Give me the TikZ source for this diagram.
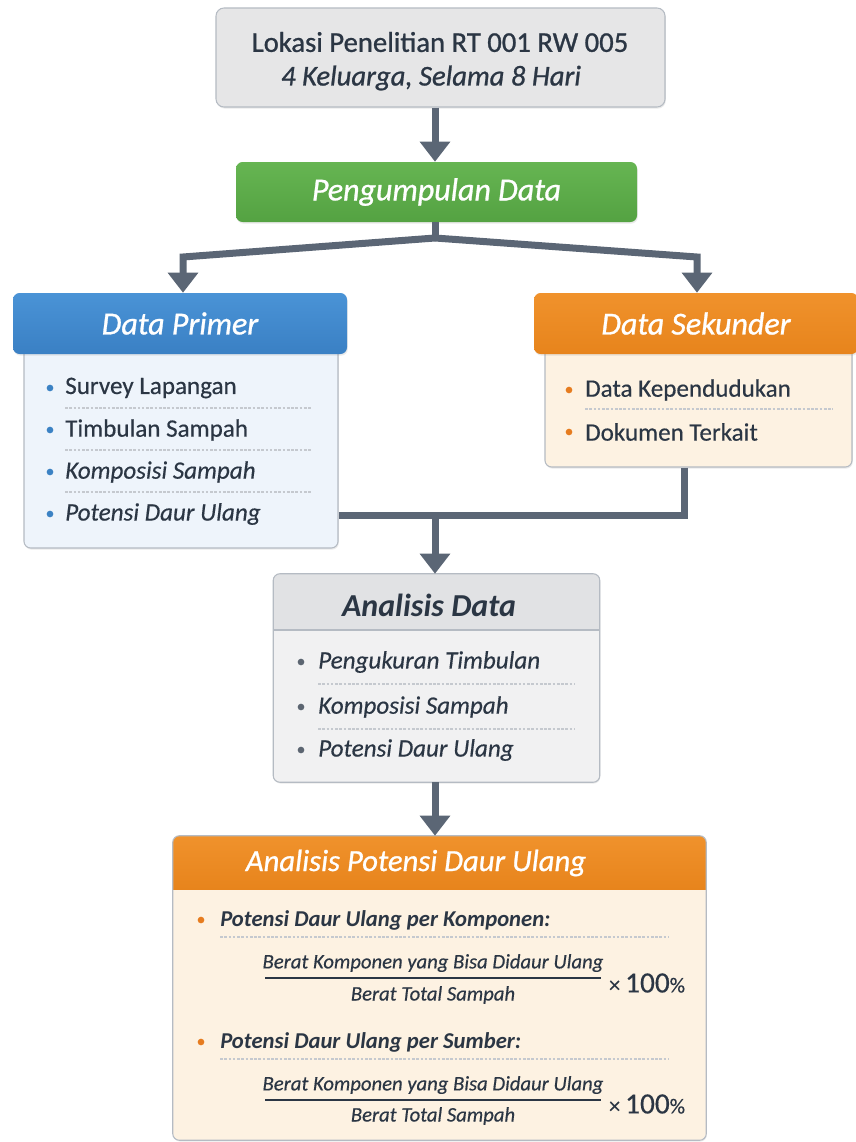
\documentclass[tikz,border=0pt]{standalone}
\usepackage{fontspec}
\setmainfont{Carlito}
\newfontfamily\med{Carlito}[FakeBold=0.9]
\newfontfamily\semi{Carlito}[FakeBold=0.4]
\usetikzlibrary{arrows.meta,shadows,calc}
\definecolor{txt}{HTML}{2B3644}
\definecolor{cline}{HTML}{5B6675}
\definecolor{topfill}{HTML}{E6E6E7}
\definecolor{bord}{HTML}{B5BBC3}
\definecolor{gtop}{HTML}{66B552}
\definecolor{gbot}{HTML}{54A242}
\definecolor{btop}{HTML}{4A93D6}
\definecolor{bbot}{HTML}{3A80C4}
\definecolor{bluebody}{HTML}{EEF4FB}
\definecolor{otop}{HTML}{F0922C}
\definecolor{obot}{HTML}{E7841C}
\definecolor{orgbody}{HTML}{FDF2E2}
\definecolor{grayhd}{HTML}{E1E2E4}
\definecolor{graybody}{HTML}{F1F1F2}
\definecolor{sepc}{HTML}{C5C9CF}
\definecolor{bdot}{HTML}{3B82C4}
\definecolor{odot}{HTML}{E67C1F}
\definecolor{gdot}{HTML}{5C6571}
\newcommand\setfs[1]{\fontsize{#1pt}{#1pt}\selectfont}
\begin{document}
\begin{tikzpicture}[x=0.75pt,y=-0.75pt,
  shad/.style={drop shadow={shadow xshift=0.6pt,shadow yshift=-1.2pt,opacity=0.16}},
  plain/.style={rectangle,inner sep=0pt,rounded corners=5pt,shad},
  body/.style={plain,draw=bord,line width=0.8pt},
  head/.style={plain,text=white,font=\med\setfs{24}\itshape},
  conn/.style={draw=cline,line width=5.25pt},
  arr/.style={conn,-{Triangle[width=22pt,length=15pt]}},
  sep/.style={draw=sepc,line width=0.8pt,dash pattern=on 2pt off 1.2pt},
  item/.style={anchor=west,inner sep=0pt,text=txt,font=\semi\setfs{18.8}},
  itemi/.style={item,font=\semi\setfs{18.8}\itshape},
  lbl/.style={inner sep=0pt,text=txt}]
\clip (0,0) rectangle (856,1142);
\fill[white] (0,0) rectangle (856,1142);
\coordinate (ax) at (435,0);

% top box
\node[body,fill=topfill,rounded corners=6pt,minimum width=336.75pt,minimum height=74.25pt] (top) at (440.5,57.5) {};
\node[lbl,font=\med\setfs{21.5}] (t1) at (440,42) {Lokasi Penelitian RT 001 RW 005};
\node[lbl,font=\med\setfs{21.5}\itshape] (t2) at (431,78) {4 Keluarga, Selama 8 Hari};

% green box
\node[head,top color=gtop,bottom color=gbot,minimum width=300.75pt,minimum height=45pt] (green) at (436.5,192) {Pengumpulan Data};

% Data Primer
\node[body,fill=bluebody,minimum width=235.5pt,minimum height=152.25pt] (pb) at (181,446.5) {};
\node[head,top color=btop,bottom color=bbot,minimum width=250.5pt,minimum height=45.75pt] (ph) at (180,323.5) {Data Primer};
\fill[bdot] (50,388) circle (2.5pt);
\node[item] (p1) at (65,388) {Survey Lapangan};
\draw[sep] (65,408) -- (312,408);
\fill[bdot] (50,430) circle (2.5pt);
\node[item] (p2) at (65,430) {Timbulan Sampah};
\draw[sep] (65,450) -- (312,450);
\fill[bdot] (50,472) circle (2.5pt);
\node[itemi] (p3) at (65,472) {Komposisi Sampah};
\draw[sep] (65,492) -- (312,492);
\fill[bdot] (50,514) circle (2.5pt);
\node[itemi] (p4) at (65,514) {Potensi Daur Ulang};

% Data Sekunder
\node[body,fill=orgbody,minimum width=230.25pt,minimum height=91.5pt] (sb) at (698.5,406) {};
\node[head,top color=otop,bottom color=obot,minimum width=243pt,minimum height=45.75pt] (sh) at (696,323.5) {Data Sekunder};
\fill[odot] (569,390) circle (2.5pt);
\node[item] (s1) at (585,390) {Data Kependudukan};
\draw[sep] (585,409) -- (833,409);
\fill[odot] (569,432) circle (2.5pt);
\node[item] (s2) at (585,432) {Dokumen Terkait};

% Analisis Data
\node[plain,fill=graybody,minimum width=244.5pt,minimum height=156pt] (ad) at (436.5,678) {};
\begin{scope}
\clip[rounded corners=5pt] (ad.north west) rectangle (ad.south east);
\fill[grayhd] (ad.north west) rectangle (ad.east |- 0,630);
\end{scope}
\draw[bord,line width=0.8pt,rounded corners=5pt] (ad.north west) rectangle (ad.south east);
\draw[bord,line width=1pt] (ad.west |- 0,630) -- (ad.east |- 0,630);
\node[lbl,font=\setfs{24}\bfseries\itshape] (adt) at (429,605) {Analisis Data};
\fill[gdot] (301,662) circle (2.5pt);
\node[itemi] (a1) at (318,662) {Pengukuran Timbulan};
\draw[sep] (318,684) -- (575,684);
\fill[gdot] (301,707) circle (2.5pt);
\node[itemi] (a2) at (318,707) {Komposisi Sampah};
\draw[sep] (318,729) -- (575,729);
\fill[gdot] (301,750) circle (2.5pt);
\node[itemi] (a3) at (318,750) {Potensi Daur Ulang};

% Analisis Potensi Daur Ulang
\node[plain,fill=orgbody,minimum width=399.75pt,minimum height=228pt] (bb) at (439.5,988) {};
\begin{scope}
\clip[rounded corners=5pt] (bb.north west) rectangle (bb.south east);
\shade[top color=otop,bottom color=obot] (bb.north west) rectangle (bb.east |- 0,889);
\end{scope}
\draw[bord,line width=0.8pt,rounded corners=5pt] (bb.north west) rectangle (bb.south east);
\node[lbl,text=white,font=\med\setfs{23}\itshape] (bbt) at (416,863) {Analisis Potensi Daur Ulang};

\fill[odot] (201,920) circle (2.5pt);
\node[item,font=\setfs{17}\bfseries\itshape] (b1) at (220,920) {Potensi Daur Ulang per Komponen:};
\draw[sep] (220,937) -- (669,937);
\node[lbl,font=\semi\setfs{15.5}\itshape] (n1) at (433,963) {Berat Komponen yang Bisa Didaur Ulang};
\draw[txt,line width=1.2pt] (265,978) -- (601,978);
\node[lbl,font=\semi\setfs{15.5}\itshape] (d1) at (433,995) {Berat Total Sampah};
\node[lbl,font=\semi\setfs{22}] (x1) at (647,983) {{\setfs{17}×}\,100{\setfs{16}\%}};

\fill[odot] (201,1042) circle (2.5pt);
\node[item,font=\setfs{17}\bfseries\itshape] (b2) at (220,1042) {Potensi Daur Ulang per Sumber:};
\draw[sep] (220,1059) -- (669,1059);
\node[lbl,font=\semi\setfs{15.5}\itshape] (n2) at (433,1085) {Berat Komponen yang Bisa Didaur Ulang};
\draw[txt,line width=1.2pt] (265,1100) -- (601,1100);
\node[lbl,font=\semi\setfs{15.5}\itshape] (d2) at (433,1116) {Berat Total Sampah};
\node[lbl,font=\semi\setfs{22}] (x2) at (647,1104) {{\setfs{17}×}\,100{\setfs{16}\%}};

% connectors
\coordinate (j) at (435,238);
\coordinate (jl) at (183,257);
\coordinate (jr) at (697,257);
\coordinate (mj) at (684,515);
\draw[arr] (top.south -| ax) -- (green.north -| ax);
\draw[conn] (green.south -| ax) -- ($(j)+(0,3)$);
\draw[arr] (j) -- (jl) -- (jl |- ph.north);
\draw[arr] (j) -- (jr) -- (jr |- sh.north);
\draw[conn] (sb.south -| mj) -- (mj) -- (pb.east |- mj);
\draw[arr] (mj -| ax) -- (ad.north -| ax);
\draw[arr] (ad.south -| ax) -- (bb.north -| ax);
\end{tikzpicture}
\end{document}
